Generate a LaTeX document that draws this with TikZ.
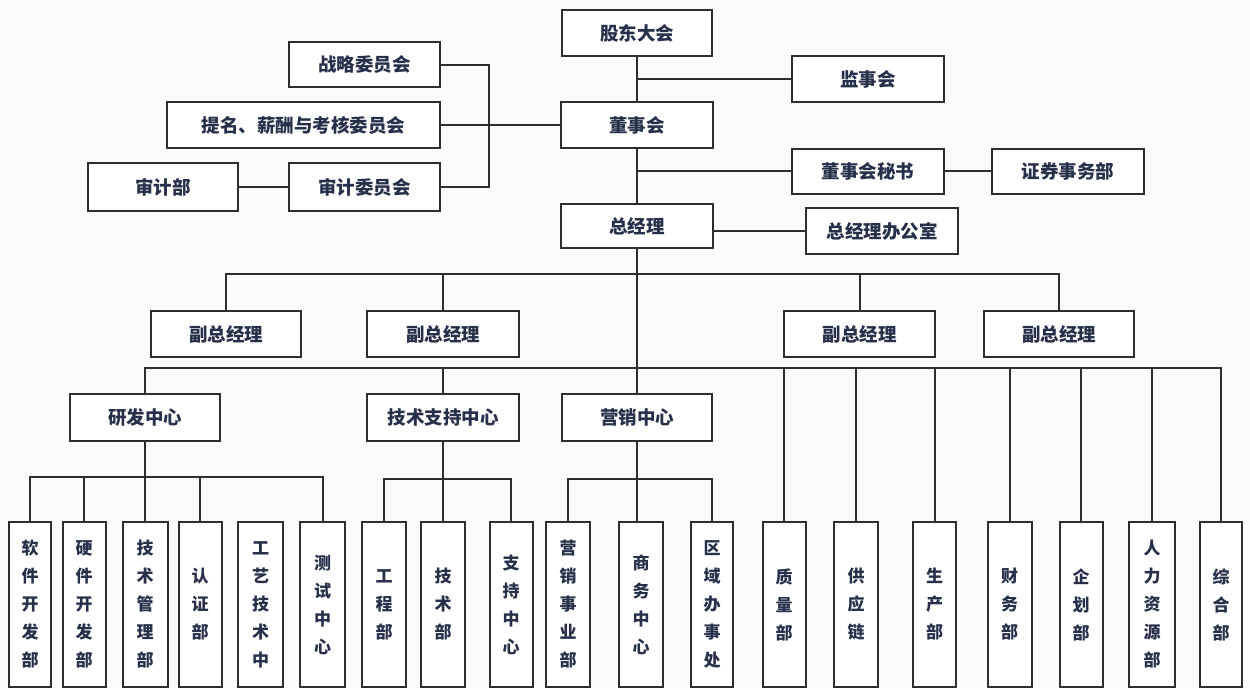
\documentclass[tikz,border=0pt]{standalone}
\usepackage{fontspec}
\newfontfamily\cjk{Noto Sans CJK SC}
\definecolor{linec}{HTML}{2E2E2E}
\definecolor{textc}{HTML}{26304A}
\definecolor{bgc}{HTML}{FAFBFB}
\tikzset{
  box/.style={draw=linec, line width=2pt, inner sep=0pt, outer sep=0pt, text=textc,
    font=\cjk\bfseries\fontsize{18.5}{20}\selectfont, fill=white},
  vbox/.style={box, minimum height=165, align=center,
    font=\cjk\bfseries\fontsize{17}{28}\selectfont},
  conn/.style={draw=linec, line width=2pt}
}
\begin{document}
\begin{tikzpicture}[x=1pt,y=-1pt]
\fill[bgc] (0,0) rectangle (1250,689);
\useasboundingbox (0,0) rectangle (1250,689);

% top level
\node[box, minimum width=150, minimum height=46] (gd) at (637,33) {股东大会};
\node[box, minimum width=152, minimum height=46] (jsh) at (868,79) {监事会};
\node[box, minimum width=152, minimum height=46] (dsh) at (637,125) {董事会};
\node[box, minimum width=151, minimum height=45] (zlw) at (364.5,64.5) {战略委员会};
\node[box, minimum width=273, minimum height=46] (tm) at (303.5,125) {提名、薪酬与考核委员会};
\node[box, minimum width=151, minimum height=48] (sjw) at (364.5,187) {审计委员会};
\node[box, minimum width=150, minimum height=48] (sjb) at (163,187) {审计部};
\node[box, minimum width=152, minimum height=45] (ms) at (868,171) {董事会秘书};
\node[box, minimum width=152, minimum height=45] (zq) at (1068,171) {证券事务部};
\node[box, minimum width=152, minimum height=44] (zjl) at (637,226) {总经理};
\node[box, minimum width=152, minimum height=46] (zb) at (882,231) {总经理办公室};

% vice GMs
\node[box, minimum width=150, minimum height=46] (vp1) at (226,334) {副总经理};
\node[box, minimum width=152, minimum height=46] (vp2) at (443,334) {副总经理};
\node[box, minimum width=151, minimum height=46] (vp3) at (859.5,334) {副总经理};
\node[box, minimum width=150, minimum height=46] (vp4) at (1059,334) {副总经理};

% centres
\node[box, minimum width=150, minimum height=47] (yf) at (145,417.5) {研发中心};
\node[box, minimum width=152, minimum height=47] (jszc) at (443,417.5) {技术支持中心};
\node[box, minimum width=150, minimum height=47] (yx) at (637,417.5) {营销中心};

% bottom boxes
\node[vbox, minimum width=42] (rj) at (30,604.5) {软\\件\\开\\发\\部};
\node[vbox, minimum width=43] (yj) at (84,604.5) {硬\\件\\开\\发\\部};
\node[vbox, minimum width=45] (jsgl) at (145,604.5) {技\\术\\管\\理\\部};
\node[vbox, minimum width=43] (rz) at (200,604.5) {认\\证\\部};
\node[vbox, minimum width=45] (gy) at (260.5,604.5) {工\\艺\\技\\术\\中};
\node[vbox, minimum width=45] (cs) at (322.5,604.5) {测\\试\\中\\心};
\node[vbox, minimum width=44] (gc) at (384,604.5) {工\\程\\部};
\node[vbox, minimum width=44] (jsb) at (443,604.5) {技\\术\\部};
\node[vbox, minimum width=43] (zc) at (511,604.5) {支\\持\\中\\心};
\node[vbox, minimum width=44] (yxsy) at (568,604.5) {营\\销\\事\\业\\部};
\node[vbox, minimum width=44] (sw) at (641,604.5) {商\\务\\中\\心};
\node[vbox, minimum width=42] (qy) at (712,604.5) {区\\域\\办\\事\\处};
\node[vbox, minimum width=43] (zl) at (784,604.5) {质\\量\\部};
\node[vbox, minimum width=44] (gyl) at (856,604.5) {供\\应\\链};
\node[vbox, minimum width=43] (sc) at (934.5,604.5) {生\\产\\部};
\node[vbox, minimum width=44] (cw) at (1009.5,604.5) {财\\务\\部};
\node[vbox, minimum width=43] (qh) at (1081,604.5) {企\\划\\部};
\node[vbox, minimum width=46] (rl) at (1152,604.5) {人\\力\\资\\源\\部};
\node[vbox, minimum width=42] (zh) at (1221,604.5) {综\\合\\部};

% bus coordinates
\coordinate (c1) at (489,125);
\coordinate (bus1) at (637,274);
\coordinate (bus2) at (637,368);
\coordinate (b3) at (145,477);
\coordinate (b4) at (443,479);
\coordinate (b5) at (637,479);

% top connectors
\draw[conn] (gd.south) -- (dsh.north);
\draw[conn] (jsh.west) -- (jsh.west -| gd.south);
\draw[conn] (dsh.south) -- (zjl.north);
\draw[conn] (ms.west) -- (ms.west -| dsh.south);
\draw[conn] (ms.east) -- (zq.west);
\draw[conn] (zb.west) -- (zb.west -| zjl.east);
\draw[conn] (tm.east) -- (dsh.west);
\draw[conn] (zlw.east) -| (c1) |- (sjw.east);
\draw[conn] (sjb.east) -- (sjw.west);

% GM trunk
\draw[conn] (zjl.south) -- (yx.north);
\draw[conn] (vp1.north) |- (vp4.north |- bus1) -- (vp4.north);
\draw[conn] (vp2.north) -- (vp2.north |- bus1);
\draw[conn] (vp3.north) -- (vp3.north |- bus1);

% second bus
\draw[conn] (yf.north) |- (zh.north |- bus2) -- (zh.north);
\draw[conn] (jszc.north) -- (jszc.north |- bus2);
\foreach \n in {zl,gyl,sc,cw,qh,rl} {
  \draw[conn] (\n.north) -- (\n.north |- bus2);
}

% R&D
\draw[conn] (yf.south) -- (jsgl.north);
\draw[conn] (rj.north) |- (cs.north |- b3) -- (cs.north);
\draw[conn] (yj.north) -- (yj.north |- b3);
\draw[conn] (rz.north) -- (rz.north |- b3);

% tech support
\draw[conn] (jszc.south) -- (jsb.north);
\draw[conn] (gc.north) |- (zc.north |- b4) -- (zc.north);

% marketing
\draw[conn] (yx.south) -- (yx.south |- sw.north);
\draw[conn] (yxsy.north) |- (qy.north |- b5) -- (qy.north);
\end{tikzpicture}
\end{document}
